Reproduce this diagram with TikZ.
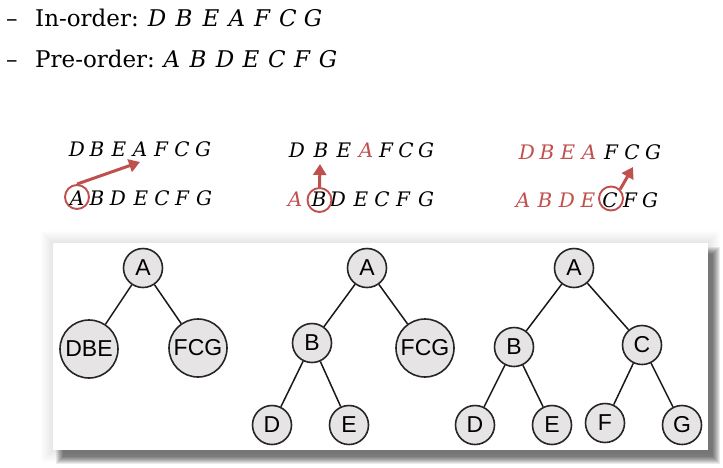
\documentclass[tikz,border=0pt]{standalone}
\usepackage{fontspec}
\setmainfont{DejaVu Serif}
\newfontfamily\treefont{Liberation Sans}
\usetikzlibrary{arrows.meta}
\definecolor{pptred}{RGB}{192,80,77}
\definecolor{nodegray}{RGB}{230,228,228}
\tikzset{
  headtext/.style={anchor=base west,inner sep=0pt,font=\fontsize{23}{23}\selectfont},
  headletter/.style={anchor=base,inner sep=0pt,font=\fontsize{23}{23}\selectfont\itshape},
  seqletter/.style={anchor=base,inner sep=0pt,font=\fontsize{20}{20}\selectfont\itshape},
  redring/.style={circle,draw=pptred,line width=1.9pt,minimum size=24pt,inner sep=0pt},
  redarrow/.style={draw=pptred,line width=3pt,-{Triangle[length=11pt,width=13pt]}},
  tnode/.style={circle,draw=black!85,line width=1.6pt,fill=nodegray,minimum size=39pt,inner sep=0pt,font=\treefont\fontsize{23}{23}\selectfont},
  bignode/.style={tnode,minimum size=58pt},
  tedge/.style={draw=black!90,line width=1.5pt}
}
\begin{document}
\begin{tikzpicture}[x=1pt,y=-1pt]
\useasboundingbox (0,0) rectangle (723,467);
\fill[white] (0,0) rectangle (723,467);

% header lines
\node[headtext] (dash1) at (6,26) {--};
\node[headtext] (in) at (35,26) {In-order:};
\foreach \l/\x [count=\i] in {D/157,B/184,E/211,A/237,F/262,C/288,G/313}
  \node[headletter] (h1\i) at (\x,26) {\l};
\node[headtext] (dash2) at (6,67) {--};
\node[headtext] (pre) at (35,67) {Pre-order:};
\foreach \l/\x [count=\i] in {A/172,B/198,D/225,E/251,C/277,F/302,G/328}
  \node[headletter] (h2\i) at (\x,67) {\l};

% group 1
\foreach \l/\x [count=\i] in {D/77,B/97,E/119,A/140,F/161,C/182,G/203}
  \node[seqletter] (g1t\i) at (\x,156) {\l};
\foreach \l/\x [count=\i] in {A/77,B/97,D/118,E/141,C/162,F/182,G/204}
  \node[seqletter] (g1b\i) at (\x,205) {\l};
\node[redring] (ring1) at (77,197) {};
\coordinate (tip1) at (140,162);
\draw[redarrow] (ring1.north) -- (tip1);

% group 2
\foreach \l/\x/\c [count=\i] in {D/297/black,B/321/black,E/344/black,A/366/pptred,F/386/black,C/406/black,G/426/black}
  \node[seqletter,text=\c] (g2t\i) at (\x,157) {\l};
\foreach \l/\x/\c [count=\i] in {A/295/pptred,B/319/black,D/338/black,E/361/black,C/382/black,F/403/black,G/426/black}
  \node[seqletter,text=\c] (g2b\i) at (\x,206) {\l};
\node[redring] (ring2) at (319.5,200) {};
\coordinate (tip2) at (320,164);
\draw[redarrow] (ring2.north) -- (tip2);

% group 3
\foreach \l/\x/\c [count=\i] in {D/527/pptred,B/547/pptred,E/568/pptred,A/589/pptred,F/611/black,C/632/black,G/653/black}
  \node[seqletter,text=\c] (g3t\i) at (\x,159) {\l};
\foreach \l/\x/\c [count=\i] in {A/523/pptred,B/545/pptred,D/567/pptred,E/588/pptred,C/610/black,F/630/black,G/650/black}
  \node[seqletter,text=\c] (g3b\i) at (\x,207) {\l};
\node[redring] (ring3) at (611,198.5) {};
\coordinate (tip3) at (633,167);
\draw[redarrow] (ring3.north east) -- (tip3);

% panel glow and shadow
\foreach \i in {1,...,12}
  \fill[black,opacity=0.007] (53-\i,243-\i) rectangle (708+\i,450+\i);
\foreach \i in {0,...,7}
  \fill[black,opacity=0.08] (56+\i,247+\i) rectangle (720-\i,464-\i);
\fill[white] (53,243) rectangle (708,450);

% tree 1
\node[tnode] (t1A) at (143,268) {A};
\node[bignode] (t1DBE) at (89,349) {DBE};
\node[bignode] (t1FCG) at (198,348) {FCG};
\draw[tedge] (t1A) -- (t1DBE);
\draw[tedge] (t1A) -- (t1FCG);

% tree 2
\node[tnode] (t2A) at (367,268) {A};
\node[tnode] (t2B) at (312,343) {B};
\node[bignode] (t2FCG) at (425,348) {FCG};
\node[tnode] (t2D) at (272,425) {D};
\node[tnode] (t2E) at (349,425) {E};
\draw[tedge] (t2A) -- (t2B);
\draw[tedge] (t2A) -- (t2FCG);
\draw[tedge] (t2B) -- (t2D);
\draw[tedge] (t2B) -- (t2E);

% tree 3
\node[tnode] (t3A) at (574,268) {A};
\node[tnode] (t3B) at (514,347) {B};
\node[tnode] (t3C) at (642,345) {C};
\node[tnode] (t3D) at (475,425) {D};
\node[tnode] (t3E) at (552,425) {E};
\node[tnode] (t3F) at (605,423) {F};
\node[tnode] (t3G) at (682,425) {G};
\draw[tedge] (t3A) -- (t3B);
\draw[tedge] (t3A) -- (t3C);
\draw[tedge] (t3B) -- (t3D);
\draw[tedge] (t3B) -- (t3E);
\draw[tedge] (t3C) -- (t3F);
\draw[tedge] (t3C) -- (t3G);
\end{tikzpicture}
\end{document}
